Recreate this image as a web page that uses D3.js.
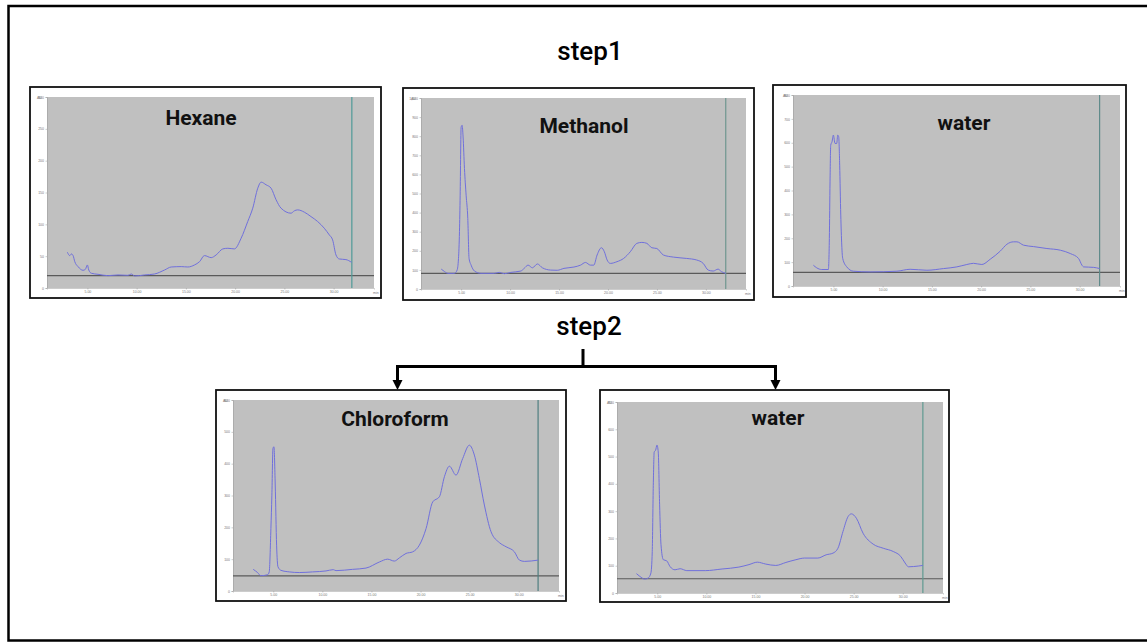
<!DOCTYPE html>
<html>
<head>
<meta charset="utf-8">
<script src="https://cdn.jsdelivr.net/npm/d3@7"></script>
<style>
  body { margin: 0; background: #fff; }
  svg { display: block; }
  .tiny text { font-family: Arial, sans-serif; font-size: 3.5px; fill: #777; }
  .tiny line, .tiny path { stroke: #999; stroke-width: 0.5; }
</style>
</head>
<body>
<div id="chart"></div>
<script>
// step headings and panel names
const stepLabels = ['step1', 'step2']
const panelTitles = ['Hexane', 'Methanol', 'water', 'Chloroform', 'water']

// shared time axis (min)
const xTicks = [5, 10, 15, 20, 25, 30]
const xDomain = [0.9, 34.1]

// y axis top value and tick step for each panel
const yMaxes = [300, 1000, 800, 600, 700]
const ySteps = [50, 100, 100, 100, 100]

// horizontal baseline level and vertical marker time per panel
const baselines = [19.4, 81.9, 57.3, 47.2, 52.3]
const markers = [31.85, 32.03, 32.03, 31.97, 32.05]

const hexaneTime = [2.97, 3.21, 3.38, 3.55, 3.72, 4.05, 4.56, 4.80, 5.00, 5.14, 5.41, 6.08, 7.09, 8.11, 9.12, 9.46, 9.80, 10.81, 11.82, 12.84, 13.51, 14.53, 15.20, 15.88, 16.39, 16.89, 17.57, 18.07, 18.75, 19.26, 19.93, 20.61, 21.28, 21.79, 22.30, 22.64, 23.14, 23.65, 24.16, 24.66, 25.68, 26.01, 26.35, 27.03, 27.70, 28.38, 29.05, 29.56, 29.90, 30.24, 30.57, 31.25, 31.82]
const hexaneSignal = [56.1, 50.9, 53.5, 50.9, 41.4, 33.6, 27.8, 29.4, 36.2, 28.3, 23.1, 21.5, 19.4, 20.5, 19.9, 22.0, 18.9, 20.5, 22.0, 28.3, 33.0, 33.6, 33.0, 36.2, 41.4, 50.9, 47.7, 51.9, 61.4, 62.4, 61.4, 78.2, 104.4, 125.4, 156.8, 166.3, 162.1, 156.8, 138.5, 125.4, 117.5, 121.2, 122.7, 119.1, 112.2, 104.4, 93.9, 83.4, 75.5, 51.9, 45.6, 44.6, 40.4]

const methanolTime = [2.97, 3.31, 3.64, 4.32, 4.59, 4.73, 4.83, 4.90, 5.00, 5.10, 5.20, 5.34, 5.51, 5.68, 5.81, 6.02, 6.36, 7.03, 8.39, 8.90, 9.40, 10.08, 11.10, 11.44, 11.84, 12.28, 12.79, 13.30, 14.15, 14.82, 15.50, 16.52, 17.20, 17.70, 18.21, 18.55, 18.89, 19.33, 19.63, 19.91, 20.24, 20.92, 21.60, 22.28, 22.95, 23.46, 23.97, 24.48, 24.99, 25.66, 26.68, 28.04, 29.05, 29.73, 30.24, 30.75, 31.25, 31.59, 32.03]
const methanolSignal = [104, 91, 82, 82, 99, 160, 300, 491, 848, 857, 796, 631, 491, 369, 160, 125, 94, 82, 82, 87, 80, 87, 94, 108, 125, 111, 131, 111, 99, 98, 108, 115, 125, 139, 125, 125, 178, 216, 195, 152, 134, 143, 160, 195, 239, 244, 239, 216, 212, 178, 167, 160, 152, 134, 99, 94, 104, 91, 82]

const waterTime = [2.97, 3.31, 3.81, 4.49, 4.59, 4.66, 4.73, 4.86, 5.00, 5.17, 5.34, 5.44, 5.54, 5.64, 5.75, 5.95, 6.36, 7.03, 8.73, 11.44, 12.79, 14.49, 16.18, 17.53, 18.55, 19.23, 20.07, 20.92, 21.94, 22.62, 23.29, 23.63, 24.31, 25.33, 26.68, 28.04, 29.05, 29.90, 30.24, 30.41, 31.43, 32.03]
const waterSignal = [87, 76, 69, 69, 199, 436, 590, 604, 632, 597, 597, 632, 625, 506, 297, 115, 80, 62, 59, 62, 70, 66, 73, 80, 90, 95, 90, 112, 146, 175, 185, 185, 171, 165, 157, 150, 136, 115, 87, 80, 78, 73]

const chloroformTime = [2.96, 3.40, 3.74, 4.42, 4.59, 4.76, 4.86, 4.97, 5.07, 5.20, 5.34, 5.48, 5.78, 6.63, 7.65, 9.01, 10.37, 11.11, 11.39, 13.08, 14.44, 15.80, 16.65, 17.33, 17.84, 18.52, 19.20, 19.88, 20.56, 21.24, 21.92, 22.43, 22.94, 23.61, 24.29, 24.97, 25.48, 25.99, 26.50, 27.18, 28.03, 28.71, 29.56, 30.07, 30.58, 31.97]
const chloroformSignal = [68, 58, 48, 51, 60, 196, 301, 448, 453, 333, 144, 76, 65, 60, 58, 60, 63, 67, 64, 68, 72, 91, 100, 94, 104, 118, 123, 144, 196, 280, 296, 359, 392, 364, 416, 458, 427, 353, 270, 186, 152, 139, 123, 97, 93, 97]

const water2Time = [2.88, 3.22, 3.73, 4.08, 4.35, 4.49, 4.59, 4.69, 4.83, 4.97, 5.10, 5.24, 5.38, 5.62, 5.96, 6.30, 6.81, 7.33, 8.01, 9.89, 11.60, 13.31, 14.34, 15.19, 16.05, 17.07, 18.10, 19.12, 19.98, 21.35, 22.20, 22.89, 23.40, 23.91, 24.43, 24.77, 25.28, 25.96, 26.99, 28.02, 29.04, 29.80, 30.24, 30.58, 31.10, 32.05]
const water2Signal = [71, 61, 51, 55, 73, 152, 383, 517, 523, 542, 517, 323, 177, 122, 118, 97, 85, 89, 82, 82, 88, 95, 104, 113, 106, 101, 112, 122, 128, 128, 140, 146, 164, 225, 280, 290, 274, 219, 179, 164, 152, 134, 110, 96, 97, 101]

const series = [
  [hexaneTime, hexaneSignal],
  [methanolTime, methanolSignal],
  [waterTime, waterSignal],
  [chloroformTime, chloroformSignal],
  [water2Time, water2Signal]
]

// layout: outer box [x0, y0, x1, y1], grey plot [x0, y0, x1, y1], title anchor
const layout = [
  { box: [30, 87, 381, 298], plot: [47, 97, 374, 288], title: [201, 125], marker: '#4f9a97' },
  { box: [403, 88, 754, 300], plot: [421, 98, 746, 289], title: [584, 133], marker: '#6f968f' },
  { box: [773, 85, 1126, 297], plot: [793, 95, 1120, 286], title: [964, 130], marker: '#5f8a8a' },
  { box: [216, 390, 566, 601], plot: [233, 400, 559, 591], title: [395, 426], marker: '#4f7f80' },
  { box: [600, 390, 949, 602], plot: [617, 402, 943, 593], title: [778, 425], marker: '#5f9a90' }
]

const width = 1147
const height = 642

const svg = d3
  .select('#chart')
  .append('svg')
  .attr('width', width)
  .attr('height', height)

// outer frame (right side runs off the page)
svg
  .append('rect')
  .attr('x', 8.5)
  .attr('y', 6)
  .attr('width', 1160)
  .attr('height', 634.5)
  .attr('fill', 'none')
  .attr('stroke', '#000')
  .attr('stroke-width', 2.5)

svg
  .selectAll('.step-label')
  .data(stepLabels)
  .enter()
  .append('text')
  .attr('class', 'step-label')
  .attr('x', (d, i) => (i === 0 ? 590 : 589))
  .attr('y', (d, i) => (i === 0 ? 60 : 335))
  .attr('text-anchor', 'middle')
  .style('font-family', 'Roboto, Arial, sans-serif')
  .style('font-weight', 500)
  .style('font-size', '26px')
  .attr('fill', '#000')
  .text(d => d)

// branching arrows below step2
const arrows = svg.append('g').attr('stroke', '#000').attr('stroke-width', 3).attr('fill', 'none')
arrows.append('path').attr('d', 'M583,349 V366.5 M396,366.5 H777 M397.5,366 V382 M775.5,366 V382')
svg
  .selectAll('.arrow-head')
  .data([397.5, 775.5])
  .enter()
  .append('path')
  .attr('class', 'arrow-head')
  .attr('d', d => `M${d - 5},380 L${d + 5},380 L${d},390 Z`)
  .attr('fill', '#000')

const line = d3.line().curve(d3.curveMonotoneX)

layout.forEach((p, i) => {
  const [times, signals] = series[i]
  const [px0, py0, px1, py1] = p.plot
  const g = svg.append('g')

  g.append('rect')
    .attr('x', p.box[0])
    .attr('y', p.box[1])
    .attr('width', p.box[2] - p.box[0])
    .attr('height', p.box[3] - p.box[1])
    .attr('fill', '#fff')
    .attr('stroke', '#111')
    .attr('stroke-width', 1.8)

  g.append('rect')
    .attr('x', px0)
    .attr('y', py0)
    .attr('width', px1 - px0)
    .attr('height', py1 - py0)
    .attr('fill', '#c0c0c0')

  const xScale = d3.scaleLinear().domain(xDomain).range([px0, px1])
  const yScale = d3.scaleLinear().domain([0, yMaxes[i]]).range([py1, py0])

  const yAxis = d3
    .axisLeft(yScale)
    .tickValues(d3.range(0, yMaxes[i] + 1, ySteps[i]))
    .tickSize(1.5)
    .tickPadding(1.5)
  g.append('g')
    .attr('class', 'tiny')
    .attr('transform', `translate(${px0},0)`)
    .call(yAxis)

  const xAxis = d3
    .axisBottom(xScale)
    .tickValues(xTicks)
    .tickFormat(d3.format('.2f'))
    .tickSize(1.5)
    .tickPadding(1)
  g.append('g')
    .attr('class', 'tiny')
    .attr('transform', `translate(0,${py1})`)
    .call(xAxis)

  // unit labels in the corners
  g.append('text')
    .attr('x', px0 - 10)
    .attr('y', py0 + 2)
    .style('font-family', 'Arial, sans-serif')
    .style('font-size', '3.5px')
    .attr('fill', '#777')
    .text('AU')
  g.append('text')
    .attr('x', px1 - 1)
    .attr('y', py1 + 6)
    .style('font-family', 'Arial, sans-serif')
    .style('font-size', '3.5px')
    .attr('fill', '#777')
    .text('min')

  g.append('line')
    .attr('x1', px0)
    .attr('x2', px1)
    .attr('y1', yScale(baselines[i]))
    .attr('y2', yScale(baselines[i]))
    .attr('stroke', '#5a5a5a')
    .attr('stroke-width', 1.2)

  g.append('line')
    .attr('x1', xScale(markers[i]))
    .attr('x2', xScale(markers[i]))
    .attr('y1', py0)
    .attr('y2', py1)
    .attr('stroke', p.marker)
    .attr('stroke-width', 1.2)

  g.append('path')
    .datum(times.map((t, k) => [xScale(t), yScale(signals[k])]))
    .attr('d', line)
    .attr('fill', 'none')
    .attr('stroke', '#7070dc')
    .attr('stroke-width', 1)

  g.append('text')
    .attr('x', p.title[0])
    .attr('y', p.title[1])
    .attr('text-anchor', 'middle')
    .style('font-family', 'Roboto, Arial, sans-serif')
    .style('font-weight', 'bold')
    .style('font-size', '21px')
    .attr('fill', '#111')
    .text(panelTitles[i])
})
</script>
</body>
</html>
